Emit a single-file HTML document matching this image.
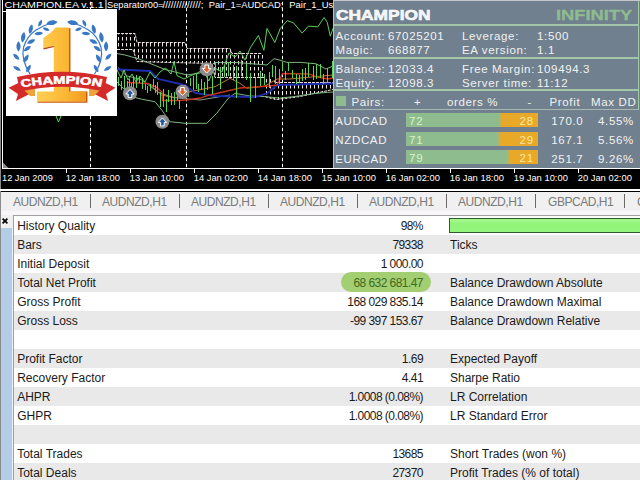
<!DOCTYPE html>
<html><head><meta charset="utf-8">
<style>
*{margin:0;padding:0;box-sizing:border-box}
html,body{width:640px;height:480px;overflow:hidden;background:#f0f0f0;font-family:"Liberation Sans",sans-serif}
.a{position:absolute;white-space:pre}
#chart{position:absolute;left:0;top:0;width:640px;height:192px;background:#000}
#panel{position:absolute;left:333px;top:0;width:307px;height:168px;background:#70808e;border-top:1px solid #c4c8cc;border-left:1px solid #b8c0c0}
.pt{position:absolute;color:#f2f2f2;font-size:11.5px;line-height:11.5px;letter-spacing:0.65px;white-space:pre;margin-top:1px}
.sep{position:absolute;left:0;width:305px;background:#a4c6a8}
.bar{position:absolute;left:72px;width:131.5px;height:14px}
.bn{position:absolute;font-size:11.5px;line-height:11.5px;top:2.6px;letter-spacing:0.9px}
#tabs{position:absolute;left:0;top:192px;width:640px;height:19px;background:#f0f0f0}
.tab{position:absolute;top:4px;color:#7a7a7a;font-size:12px;line-height:12px;letter-spacing:-0.45px;white-space:pre}
.tsep{position:absolute;top:2px;width:1px;height:14px;background:#6a6a6a}
#tbl{position:absolute;left:13px;top:215px;width:627px;height:265px;border-left:1px solid #a0a0a0;border-top:1px solid #a0a0a0;background:#fff}
.row{position:absolute;left:0;width:626px;height:19px}
.g{background:#e9e9e9}
.l1{position:absolute;left:3.2px;top:4px;font-size:12px;line-height:12px;color:#1a1a1a;white-space:pre}
.v1{position:absolute;right:217px;top:4px;font-size:12px;line-height:12px;color:#1a1a1a;letter-spacing:-0.55px;white-space:pre}
.l2{position:absolute;left:436px;top:4px;font-size:12px;line-height:12px;color:#1a1a1a;white-space:pre}
</style></head><body>

<div id="chart">
<svg width="640" height="192" viewBox="0 0 640 192" style="position:absolute;left:0;top:0">
 <defs>
  <pattern id="hatch" x="2" y="1" width="4" height="6" patternUnits="userSpaceOnUse"><rect x="0" y="0" width="1" height="3.5" fill="#ece4e4"/></pattern>
  <linearGradient id="one" x1="0" x2="1" y1="0" y2="0"><stop offset="0" stop-color="#ffcf52"/><stop offset="0.6" stop-color="#fbb633"/><stop offset="1" stop-color="#f39a1c"/></linearGradient>
  <linearGradient id="oneb" x1="0" x2="0" y1="0" y2="1"><stop offset="0" stop-color="#ffc94a"/><stop offset="1" stop-color="#f6a424"/></linearGradient>
 </defs>
 <rect x="0" y="0" width="1" height="192" fill="#8a8a8a"/>
 <rect x="2" y="0" width="1" height="169" fill="#fff"/>
 <rect x="2" y="168" width="638" height="1" fill="#fff"/>
 <rect x="0" y="189" width="640" height="2" fill="#fff"/>
 <rect x="3" y="11" width="3" height="1" fill="#fff"/>
 <path d="M3 162.5L3 168L8.5 168Z" fill="#8a8a8a"/>
 <!-- cloud -->
 <path d="M117 33L135 33L137 42L185 42L187 48L230 48L232 53L262 53L265 60L265 78L215 78L212 63L170 62.5L137 62L133 50L117 50Z" fill="url(#hatch)"/>
 <path d="M265 76L276 82L333 82L333 90L300 97L276 100L265 97Z" fill="url(#hatch)"/>
 <g fill="none" stroke="#e8dcdc" stroke-width="1" stroke-dasharray="3,1">
  <path d="M117 33.5L135 33.5L137 42.5L185 42.5L187 48.5L230 48.5L232 53.5L262 53.5"/>
  <path d="M117 49.5L133 49.5L137 61.5L170 62.5L212 63.5L215 77.5L265 77.5"/>
  <path d="M276 82.5L333 82.5"/>
  <path d="M265 96.5L276 99.5L300 96.5L333 89.5"/>
 </g>
 <!-- day separators -->
 <g stroke="#fff" stroke-width="1" stroke-dasharray="3.5,2.5" stroke-dashoffset="-1.75">
  <line x1="90.5" y1="0" x2="90.5" y2="168"/>
  <line x1="186.5" y1="0" x2="186.5" y2="168"/>
  <line x1="282.5" y1="0" x2="282.5" y2="168"/>
 </g>
 <!-- bands -->
 <g fill="none" stroke-width="1">
  <polyline stroke="#7fb57f" points="117,53.5 125,55 139,59 149,63 165,69.5 187,75 200,73 215,62.5 237,62.5 267,65 274,58.7 280,60.2 287,62.4 301,62.4 316,63.8 326,69 333,66"/>
  <polyline stroke="#7fb57f" points="117,82 131.7,96.7 141.7,99.2 155,101.7 161.7,110 170,121.7 185,123.3 206.7,123.3 216.7,113.3 228.3,98.3 235,93.3 250,96 265,96.6 279.6,98.1 294,96.6 313,93.7 327.7,92.3 333,92"/>
  <polyline stroke="#8a9a8a" points="118,67.5 126.5,75.8 141,79.5 158.7,92.5 171,96.7 177.5,98 200,100 230,95"/>
  <polyline stroke="#c07a3a" points="148,83 161.7,95 175,98 190,91.7 215,86.7 230,78.3 240,83.3 246.7,88.3 265,86 277,79 290,79 333,75"/>
 </g>
 <polyline fill="none" stroke="#1f2eb0" stroke-width="1.8" points="117,69.5 150,71 158,79 185,85 195,93 215,96 255,97 268,93 277,85 333,83.5"/>
 <polyline fill="none" stroke="#c8321e" stroke-width="1.3" points="128,82.5 148,83.5 156,87 162,92 162.5,100.5 180,100.5 190,99.5 200,98 210,95 240,88 270,86 277,85 282.5,73.5 309,74 317.5,77 327.7,79 333,78"/>
 <!-- price -->
 <path fill="none" stroke="#52d852" stroke-width="1" d="M118.5 77V86M121.5 81V90M124.5 76V90M127.5 81V92M129.5 79V89M131.5 83V90M133.5 76V88M136.5 75V88M139.5 77V83M142.5 78V89M145.5 84V90M147.5 86V93M150.5 84V91M153.5 79V87M155.5 85V93M157.5 82V95M160.5 92V107M163.5 89V107M166.5 99V112M168.5 90V102M171.5 93V105M174.5 92V105M177.5 88V100M179.5 100V109M182.5 89V97M185.5 85V98M188.5 89V97M190.5 78V86M193.5 76V90M196.5 73V89M198.5 84V92M201.5 79V90M204.5 82V95M207.5 71V90M212.5 76V94M215.5 63V75M220.5 67V89M224.5 65V77M228.5 63V76M233.5 65V80M236.5 66V98M241.5 60V76M246.5 64V80M250.5 73V102M255.5 78V98M260.5 71V86M264.5 74V85M269.5 72V88M272.5 65V77M275.5 66V84M279.5 69V84M282.5 62V71M285.5 71V80M288.5 63V71M292.5 70V78M296.5 74V84M299.5 75V83M302.5 69V81M305.5 68V80M308.5 63V77M313.5 66V80M316.5 64V79M320.5 64V78M323.5 74V84M327.5 68V83M332.5 61V78"/>
 <polyline fill="none" stroke="#5ad25a" stroke-width="1" points="117,70 121,78 124,70 128,80 132,74 136,82 140,76 145,82 150,72 155,78 160,72 165.6,68 171,74 174,61.5 177,75.6 184,79 191,75.6 197.5,72.8 203,70 208.8,81 214.4,68 222,72 229,53 235,57 240,51 245,60 250.6,47.2 258.4,35.5 263.9,50.3 267,28.4 274.8,42.5 280.3,28.4 287.3,20.6 293.6,23 302.2,33.1 308.4,26.1 317.8,26.9 324,17.5 327.2,22.2 330.3,36.2 333,28.4"/>
 <path fill="none" stroke="#4fe04f" d="M56 116L58.5 122L61 116"/>
 <!-- arrows -->
 <g>
  <circle cx="130" cy="93.3" r="7" fill="#8c8c8c"/>
  <path d="M130 89.5L134.2 94L131.8 94L131.8 97.5L128.2 97.5L128.2 94L125.8 94Z" fill="#1e5aa0" stroke="#fff" stroke-width="1"/>
  <circle cx="162.4" cy="121.7" r="7" fill="#8c8c8c"/>
  <path d="M162.4 117.9L166.6 122.4L164.2 122.4L164.2 125.9L160.6 125.9L160.6 122.4L158.2 122.4Z" fill="#1e5aa0" stroke="#fff" stroke-width="1"/>
  <circle cx="182.5" cy="91.7" r="7" fill="#8c8c8c"/>
  <path d="M182.5 95.5L186.7 91L184.3 91L184.3 87.5L180.7 87.5L180.7 91L178.3 91Z" fill="#e0602a" stroke="#fff" stroke-width="1"/>
  <circle cx="206.7" cy="69.2" r="7" fill="#8c8c8c"/>
  <path d="M206.7 73L210.9 68.5L208.5 68.5L208.5 65L204.9 65L204.9 68.5L202.5 68.5Z" fill="#e0602a" stroke="#fff" stroke-width="1"/>
 </g>
 <!-- ticks -->
 <g fill="#fff">
  <rect x="66" y="169" width="1" height="4"/><rect x="130" y="169" width="1" height="4"/>
  <rect x="194" y="169" width="1" height="4"/><rect x="258" y="169" width="1" height="4"/>
  <rect x="322" y="169" width="1" height="4"/><rect x="386" y="169" width="1" height="4"/>
  <rect x="450" y="169" width="1" height="4"/><rect x="514" y="169" width="1" height="4"/>
  <rect x="578" y="169" width="1" height="4"/>
 </g>
 <g fill="#fff" font-family="Liberation Sans" font-size="9">
  <text x="2.0" y="181" textLength="50.8" lengthAdjust="spacingAndGlyphs">12 Jan 2009</text>
  <text x="65.7" y="181" textLength="54.2" lengthAdjust="spacingAndGlyphs">12 Jan 18:00</text>
  <text x="129.7" y="181" textLength="54.2" lengthAdjust="spacingAndGlyphs">13 Jan 10:00</text>
  <text x="193.7" y="181" textLength="54.2" lengthAdjust="spacingAndGlyphs">14 Jan 02:00</text>
  <text x="257.7" y="181" textLength="54.2" lengthAdjust="spacingAndGlyphs">14 Jan 18:00</text>
  <text x="321.7" y="181" textLength="54.2" lengthAdjust="spacingAndGlyphs">15 Jan 10:00</text>
  <text x="385.7" y="181" textLength="54.2" lengthAdjust="spacingAndGlyphs">16 Jan 02:00</text>
  <text x="449.7" y="181" textLength="54.2" lengthAdjust="spacingAndGlyphs">16 Jan 18:00</text>
  <text x="513.7" y="181" textLength="54.2" lengthAdjust="spacingAndGlyphs">19 Jan 10:00</text>
  <text x="577.7" y="181" textLength="54.2" lengthAdjust="spacingAndGlyphs">20 Jan 02:00</text>
 </g>
 <g fill="#fff" font-family="Liberation Sans" font-size="9">
  <text x="4.6" y="8" textLength="99" lengthAdjust="spacingAndGlyphs">CHAMPION.EA v.1.1</text>
  <rect x="105.5" y="0" width="1" height="9"/>
  <text x="107" y="8" textLength="56.5" lengthAdjust="spacingAndGlyphs">Separator00=</text>
  <text x="162.5" y="8" textLength="41" lengthAdjust="spacingAndGlyphs">//////////////;</text>
  <text x="208.8" y="8" textLength="74.5" lengthAdjust="spacingAndGlyphs">Pair_1=AUDCAD;</text>
  <text x="289.3" y="8" textLength="44" lengthAdjust="spacingAndGlyphs">Pair_1_Us</text>
 </g>
 <!-- logo -->
 <rect x="6" y="9" width="111" height="107" fill="#fff"/>
 <g>
  <path d="M30 74Q21 60 23.5 47.5Q27 36 36 30Q45 24.5 55 22" fill="none" stroke="#3b78c4" stroke-width="1.2"/>
  <g fill="#3b78c4">
   <path transform="translate(52 22.7) rotate(82)" d="M0 -5.6C3.06 -2.24 3.06 2.24 0 5.6C-3.06 2.24 -3.06 -2.24 0 -5.6Z"/>
   <path transform="translate(40.2 23.3) rotate(25)" d="M0 -3.8C2.07 -1.52 2.07 1.52 0 3.8C-2.07 1.52 -2.07 -1.52 0 -3.8Z"/>
   <path transform="translate(46.2 29.2) rotate(110)" d="M0 -3.6C1.97 -1.44 1.97 1.44 0 3.6C-1.97 1.44 -1.97 -1.44 0 -3.6Z"/>
   <path transform="translate(30.8 29.2) rotate(15)" d="M0 -4.8C2.62 -1.92 2.62 1.92 0 4.8C-2.62 1.92 -2.62 -1.92 0 -4.8Z"/>
   <path transform="translate(38.7 33.5) rotate(85)" d="M0 -4.4C2.40 -1.76 2.40 1.76 0 4.4C-2.40 1.76 -2.40 -1.76 0 -4.4Z"/>
   <path transform="translate(23.2 37.3) rotate(10)" d="M0 -5.3C2.89 -2.12 2.89 2.12 0 5.3C-2.89 2.12 -2.89 -2.12 0 -5.3Z"/>
   <path transform="translate(31.1 41.6) rotate(65)" d="M0 -4.5C2.46 -1.80 2.46 1.80 0 4.5C-2.46 1.80 -2.46 -1.80 0 -4.5Z"/>
   <path transform="translate(18.5 46.4) rotate(0)" d="M0 -5.1C2.78 -2.04 2.78 2.04 0 5.1C-2.78 2.04 -2.78 -2.04 0 -5.1Z"/>
   <path transform="translate(27.3 48.6) rotate(55)" d="M0 -4.4C2.40 -1.76 2.40 1.76 0 4.4C-2.40 1.76 -2.40 -1.76 0 -4.4Z"/>
   <path transform="translate(16.2 56.8) rotate(-45)" d="M0 -4.2C2.29 -1.68 2.29 1.68 0 4.2C-2.29 1.68 -2.29 -1.68 0 -4.2Z"/>
   <path transform="translate(26.1 58.6) rotate(30)" d="M0 -4.6C2.51 -1.84 2.51 1.84 0 4.6C-2.51 1.84 -2.51 -1.84 0 -4.6Z"/>
   <path transform="translate(17 68.5) rotate(-60)" d="M0 -4.4C2.40 -1.76 2.40 1.76 0 4.4C-2.40 1.76 -2.40 -1.76 0 -4.4Z"/>
   <path transform="translate(28.5 68.5) rotate(30)" d="M0 -4.3C2.35 -1.72 2.35 1.72 0 4.3C-2.35 1.72 -2.35 -1.72 0 -4.3Z"/>
  </g>
 </g>
 <g transform="translate(124.6 0) scale(-1 1)">
  <path d="M30 74Q21 60 23.5 47.5Q27 36 36 30Q45 24.5 55 22" fill="none" stroke="#3b78c4" stroke-width="1.2"/>
  <g fill="#3b78c4">
   <path transform="translate(52 22.7) rotate(82)" d="M0 -5.6C3.06 -2.24 3.06 2.24 0 5.6C-3.06 2.24 -3.06 -2.24 0 -5.6Z"/>
   <path transform="translate(40.2 23.3) rotate(25)" d="M0 -3.8C2.07 -1.52 2.07 1.52 0 3.8C-2.07 1.52 -2.07 -1.52 0 -3.8Z"/>
   <path transform="translate(46.2 29.2) rotate(110)" d="M0 -3.6C1.97 -1.44 1.97 1.44 0 3.6C-1.97 1.44 -1.97 -1.44 0 -3.6Z"/>
   <path transform="translate(30.8 29.2) rotate(15)" d="M0 -4.8C2.62 -1.92 2.62 1.92 0 4.8C-2.62 1.92 -2.62 -1.92 0 -4.8Z"/>
   <path transform="translate(38.7 33.5) rotate(85)" d="M0 -4.4C2.40 -1.76 2.40 1.76 0 4.4C-2.40 1.76 -2.40 -1.76 0 -4.4Z"/>
   <path transform="translate(23.2 37.3) rotate(10)" d="M0 -5.3C2.89 -2.12 2.89 2.12 0 5.3C-2.89 2.12 -2.89 -2.12 0 -5.3Z"/>
   <path transform="translate(31.1 41.6) rotate(65)" d="M0 -4.5C2.46 -1.80 2.46 1.80 0 4.5C-2.46 1.80 -2.46 -1.80 0 -4.5Z"/>
   <path transform="translate(18.5 46.4) rotate(0)" d="M0 -5.1C2.78 -2.04 2.78 2.04 0 5.1C-2.78 2.04 -2.78 -2.04 0 -5.1Z"/>
   <path transform="translate(27.3 48.6) rotate(55)" d="M0 -4.4C2.40 -1.76 2.40 1.76 0 4.4C-2.40 1.76 -2.40 -1.76 0 -4.4Z"/>
   <path transform="translate(16.2 56.8) rotate(-45)" d="M0 -4.2C2.29 -1.68 2.29 1.68 0 4.2C-2.29 1.68 -2.29 -1.68 0 -4.2Z"/>
   <path transform="translate(26.1 58.6) rotate(30)" d="M0 -4.6C2.51 -1.84 2.51 1.84 0 4.6C-2.51 1.84 -2.51 -1.84 0 -4.6Z"/>
   <path transform="translate(17 68.5) rotate(-60)" d="M0 -4.4C2.40 -1.76 2.40 1.76 0 4.4C-2.40 1.76 -2.40 -1.76 0 -4.4Z"/>
   <path transform="translate(28.5 68.5) rotate(30)" d="M0 -4.3C2.35 -1.72 2.35 1.72 0 4.3C-2.35 1.72 -2.35 -1.72 0 -4.3Z"/>
  </g>
 </g>
 <!-- the 1 -->
 <path d="M69.7 28.3L69.7 92.2L86.7 92.2L86.7 102.1L37.5 102.1" fill="none" stroke="#c85a12" stroke-width="1.5"/>
 <path d="M56 27.6L69 27.6L69 91.5L86 91.5L86 101.4L37 101.4L37 91.5L53.8 91.5L53.8 46.3L43.3 48.6L43.3 38Q50 34 56 27.6Z" fill="url(#one)"/>
 <path d="M43.5 48.8L53.8 46.5" stroke="#b83a18" stroke-width="1.2" fill="none"/>
 <!-- ribbon -->
 <path d="M8.6 87.8L19.4 82.5L30 93.8L15.9 101L18 94Z" fill="#d42a2a"/>
 <path d="M115.4 87.8L104.6 82.5L94 93.8L108.1 101L106 94Z" fill="#d42a2a"/>
 <path d="M22 88L35 88L35 96L30 96Z" fill="#eda23a"/>
 <path d="M102 88L89 88L89 96L94 96Z" fill="#eda23a"/>
 <path d="M17 77Q62 66.4 107 77L104 91.5Q62 82 20 91.5Z" fill="#d42a2a"/>
 <text transform="scale(1.3607 1)" font-family="Liberation Sans" font-weight="bold" font-size="10.8" fill="#fff" stroke="#fff" stroke-width="0.5" x="15.80 23.60 31.40 39.19 48.19 55.39 58.40 66.80" y="87.30 85.57 84.38 83.71 83.59 84.00 84.31 85.57" rotate="-9.2 -6.4 -3.6 -0.6 2.4 4.3 6.3 9.2">CHAMPION</text>
</svg>
</div>

<div id="panel">
 <div class="pt" style="left:1.5px;top:4.8px;font-weight:bold;font-size:15.5px;line-height:15.5px;letter-spacing:0;transform:scaleX(1.12);transform-origin:0 0;-webkit-text-stroke:0.6px #fff">CHAMPION</div>
 <div class="pt" style="left:222px;top:4.6px;font-weight:bold;font-size:15.5px;line-height:15.5px;letter-spacing:0;transform:scaleX(1.18);transform-origin:0 0;color:#8fbc8f;-webkit-text-stroke:0.3px #8fbc8f">INFINITY</div>
 <div class="sep" style="top:23px;height:2px"></div>
 <div class="pt" style="left:1.5px;top:29px">Account:</div>
 <div class="pt" style="left:54px;top:29px">67025201</div>
 <div class="pt" style="left:128px;top:29px">Leverage:</div>
 <div class="pt" style="left:203px;top:29px">1:500</div>
 <div class="pt" style="left:1.5px;top:43px">Magic:</div>
 <div class="pt" style="left:54px;top:43px">668877</div>
 <div class="pt" style="left:128px;top:43px">EA version:</div>
 <div class="pt" style="left:203px;top:43px">1.1</div>
 <div class="sep" style="top:56px;height:2px"></div>
 <div class="pt" style="left:1.5px;top:62px">Balance:</div>
 <div class="pt" style="left:54px;top:62px">12033.4</div>
 <div class="pt" style="left:128px;top:62px">Free Margin:</div>
 <div class="pt" style="left:203px;top:62px">109494.3</div>
 <div class="pt" style="left:1.5px;top:76px">Equity:</div>
 <div class="pt" style="left:54px;top:76px">12098.3</div>
 <div class="pt" style="left:128px;top:76px">Server time:</div>
 <div class="pt" style="left:203px;top:76px">11:12</div>
 <div class="sep" style="top:88px;height:2px"></div>
 <div style="position:absolute;left:2px;top:95px;width:10px;height:10px;background:#8fbc8f"></div>
 <div class="pt" style="left:17.5px;top:95px">Pairs:</div>
 <div class="pt" style="left:80px;top:95px">+</div>
 <div class="pt" style="left:113px;top:95px">orders %</div>
 <div class="pt" style="left:193.5px;top:95px">-</div>
 <div class="pt" style="left:215.5px;top:95px">Profit</div>
 <div class="pt" style="left:257px;top:95px">Max DD</div>
 <div class="sep" style="top:108px;height:1px;background:#a8b8b0"></div>
 <div style="position:absolute;left:304px;top:0;width:1px;height:109px;background:#a4c6a8"></div>

 <div class="pt" style="left:1.3px;top:114px">AUDCAD</div>
 <div class="bar" style="top:112px;background:linear-gradient(90deg,#8fbc8f 0,#8fbc8f 70%,#e8a828 73%,#e8a828 100%)"><span class="bn" style="left:3px;color:#d8f4c0">72</span><span class="bn" style="right:3.4px;color:#fbe7a0">28</span></div>
 <div class="pt" style="left:217.3px;top:114px">170.0</div>
 <div class="pt" style="left:264px;top:114px">4.55%</div>

 <div class="pt" style="left:1.3px;top:133px">NZDCAD</div>
 <div class="bar" style="top:131px;background:linear-gradient(90deg,#8fbc8f 0,#8fbc8f 69%,#e8a828 72%,#e8a828 100%)"><span class="bn" style="left:3px;color:#d8f4c0">71</span><span class="bn" style="right:3.4px;color:#fbe7a0">29</span></div>
 <div class="pt" style="left:217.3px;top:133px">167.1</div>
 <div class="pt" style="left:264px;top:133px">5.56%</div>

 <div class="pt" style="left:1.3px;top:152px">EURCAD</div>
 <div class="bar" style="top:149px;background:linear-gradient(90deg,#8fbc8f 0,#8fbc8f 76%,#e8a828 79%,#e8a828 100%)"><span class="bn" style="left:3px;color:#d8f4c0">79</span><span class="bn" style="right:3.4px;color:#fbe7a0">21</span></div>
 <div class="pt" style="left:217.3px;top:152px">251.7</div>
 <div class="pt" style="left:264px;top:152px">9.26%</div>
</div>

<div id="tabs">
 <div class="tab" style="left:13px">AUDNZD,H1</div><div class="tsep" style="left:90px"></div>
 <div class="tab" style="left:102px">AUDNZD,H1</div><div class="tsep" style="left:179px"></div>
 <div class="tab" style="left:191px">AUDNZD,H1</div><div class="tsep" style="left:268px"></div>
 <div class="tab" style="left:280px">AUDNZD,H1</div><div class="tsep" style="left:357px"></div>
 <div class="tab" style="left:369px">AUDNZD,H1</div><div class="tsep" style="left:446px"></div>
 <div class="tab" style="left:458px">AUDNZD,H1</div><div class="tsep" style="left:535px"></div>
 <div class="tab" style="left:548px">GBPCAD,H1</div><div class="tsep" style="left:624px"></div>
 <div class="tab" style="left:637px">G</div>
</div>
<div style="position:absolute;left:1px;top:211px;width:639px;height:4px;background:#f8f6f8"></div>
<div style="position:absolute;left:0;top:192px;width:1px;height:288px;background:#8a8a8a"></div>
<div style="position:absolute;left:1px;top:228px;width:11px;height:252px;background:#b3cde6"></div>
<svg style="position:absolute;left:0;top:214px" width="12" height="12"><path d="M2.6 4.6L7.4 9.4M7.4 4.6L2.6 9.4" stroke="#000" stroke-width="1.7"/></svg>

<div id="tbl">
 <div class="row" style="top:0"><span class="l1">History Quality</span><span class="v1">98%</span></div>
 <div class="row g" style="top:19px"><span class="l1">Bars</span><span class="v1">79338</span><span class="l2">Ticks</span></div>
 <div class="row" style="top:38px"><span class="l1">Initial Deposit</span><span class="v1">1 000.00</span></div>
 <div class="row g" style="top:57px"><span class="l1">Total Net Profit</span><span class="l2">Balance Drawdown Absolute</span></div>
 <div class="row" style="top:76px"><span class="l1">Gross Profit</span><span class="v1">168 029 835.14</span><span class="l2">Balance Drawdown Maximal</span></div>
 <div class="row g" style="top:95px"><span class="l1">Gross Loss</span><span class="v1">-99 397 153.67</span><span class="l2">Balance Drawdown Relative</span></div>
 <div class="row" style="top:114px"></div>
 <div class="row g" style="top:133px"><span class="l1">Profit Factor</span><span class="v1">1.69</span><span class="l2">Expected Payoff</span></div>
 <div class="row" style="top:152px"><span class="l1">Recovery Factor</span><span class="v1">4.41</span><span class="l2">Sharpe Ratio</span></div>
 <div class="row g" style="top:171px"><span class="l1">AHPR</span><span class="v1">1.0008 (0.08%)</span><span class="l2">LR Correlation</span></div>
 <div class="row" style="top:190px"><span class="l1">GHPR</span><span class="v1">1.0008 (0.08%)</span><span class="l2">LR Standard Error</span></div>
 <div class="row g" style="top:209px"></div>
 <div class="row" style="top:228px"><span class="l1">Total Trades</span><span class="v1">13685</span><span class="l2">Short Trades (won %)</span></div>
 <div class="row g" style="top:247px"><span class="l1">Total Deals</span><span class="v1">27370</span><span class="l2">Profit Trades (% of total)</span></div>
 <!-- pill -->
 <div style="position:absolute;left:327px;top:56px;width:90px;height:19.6px;border-radius:10px;background:#a3cf72"></div>
 <span class="v1" style="top:61px;color:#3f6a22">68 632 681.47</span>
 <!-- quality bar -->
 <div style="position:absolute;left:435px;top:2px;width:200px;height:15px;border:1px solid #2f5a2f;background:linear-gradient(#a8f890,#90f478 40%,#94f47c)"></div>
</div>
</body></html>
